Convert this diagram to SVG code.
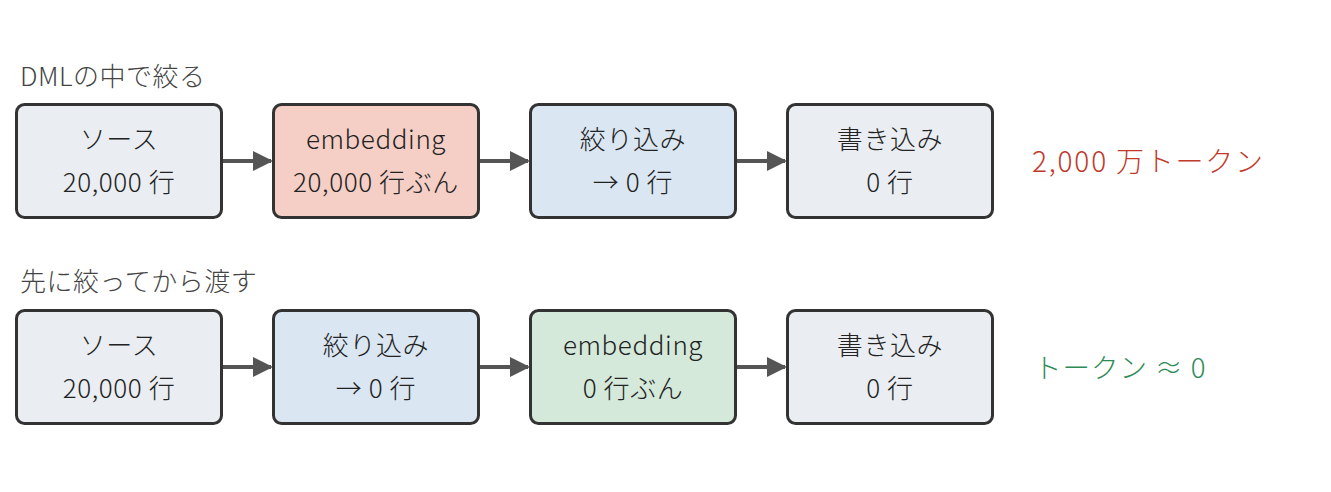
<svg xmlns="http://www.w3.org/2000/svg" width="1331" height="492" viewBox="0 0 1331 492">
<defs>
<style>
.box{stroke:#333;stroke-width:3}
.gray{fill:#eaeef2}
.red{fill:#f5cfc6}
.blue{fill:#dae6f2}
.green{fill:#d4e9da}
text{font-family:"Noto Sans CJK JP","Noto Sans",sans-serif;font-weight:300}
.lbl{font-size:26px;fill:#222;text-anchor:middle;letter-spacing:0.6px}
.ttl{font-size:26px;fill:#444;letter-spacing:0.5px}
.conn{stroke:#555;stroke-width:4;fill:none}
</style>
<marker id="ah" markerWidth="5" markerHeight="5" refX="4.5" refY="2.5" orient="auto" markerUnits="strokeWidth">
<path d="M0,0 L5,2.5 L0,5 Z" fill="#555"/>
</marker>
</defs>
<rect width="1331" height="492" fill="#fff"/>
<text class="ttl" x="20" y="86">DMLの中で絞る</text>
<text class="ttl" x="20" y="291">先に絞ってから渡す</text>
<g id="connectors">
<line class="conn" x1="223" y1="161" x2="271" y2="161" marker-end="url(#ah)"/>
<line class="conn" x1="480" y1="161" x2="528" y2="161" marker-end="url(#ah)"/>
<line class="conn" x1="737" y1="161" x2="785" y2="161" marker-end="url(#ah)"/>
<line class="conn" x1="223" y1="367" x2="271" y2="367" marker-end="url(#ah)"/>
<line class="conn" x1="480" y1="367" x2="528" y2="367" marker-end="url(#ah)"/>
<line class="conn" x1="737" y1="367" x2="785" y2="367" marker-end="url(#ah)"/>
</g>
<g id="n1">
<rect class="box gray" x="16.5" y="104.5" width="205" height="113" rx="8"/>
<text class="lbl" x="119" y="149">ソース</text>
<text class="lbl" x="119" y="192">20,000 行</text>
</g>
<g id="n2">
<rect class="box red" x="273.5" y="104.5" width="205" height="113" rx="8"/>
<text class="lbl" x="376" y="149">embedding</text>
<text class="lbl" x="376" y="192">20,000 行ぶん</text>
</g>
<g id="n3">
<rect class="box blue" x="530.5" y="104.5" width="205" height="113" rx="8"/>
<text class="lbl" x="633" y="149">絞り込み</text>
<text class="lbl" x="633" y="192">→ 0 行</text>
</g>
<g id="n4">
<rect class="box gray" x="787.5" y="104.5" width="205" height="113" rx="8"/>
<text class="lbl" x="890" y="149">書き込み</text>
<text class="lbl" x="890" y="192">0 行</text>
</g>
<text id="t1" x="1032" y="172" font-size="28" letter-spacing="1.8" fill="#c0392b">2,000 万トークン</text>
<g id="m1">
<rect class="box gray" x="16.5" y="310.5" width="205" height="113" rx="8"/>
<text class="lbl" x="119" y="355">ソース</text>
<text class="lbl" x="119" y="398">20,000 行</text>
</g>
<g id="m2">
<rect class="box blue" x="273.5" y="310.5" width="205" height="113" rx="8"/>
<text class="lbl" x="376" y="355">絞り込み</text>
<text class="lbl" x="376" y="398">→ 0 行</text>
</g>
<g id="m3">
<rect class="box green" x="530.5" y="310.5" width="205" height="113" rx="8"/>
<text class="lbl" x="633" y="355">embedding</text>
<text class="lbl" x="633" y="398">0 行ぶん</text>
</g>
<g id="m4">
<rect class="box gray" x="787.5" y="310.5" width="205" height="113" rx="8"/>
<text class="lbl" x="890" y="355">書き込み</text>
<text class="lbl" x="890" y="398">0 行</text>
</g>
<text id="t2" x="1034" y="378" font-size="27.5" letter-spacing="1" fill="#2e8b57">トークン ≈ 0</text>
</svg>
